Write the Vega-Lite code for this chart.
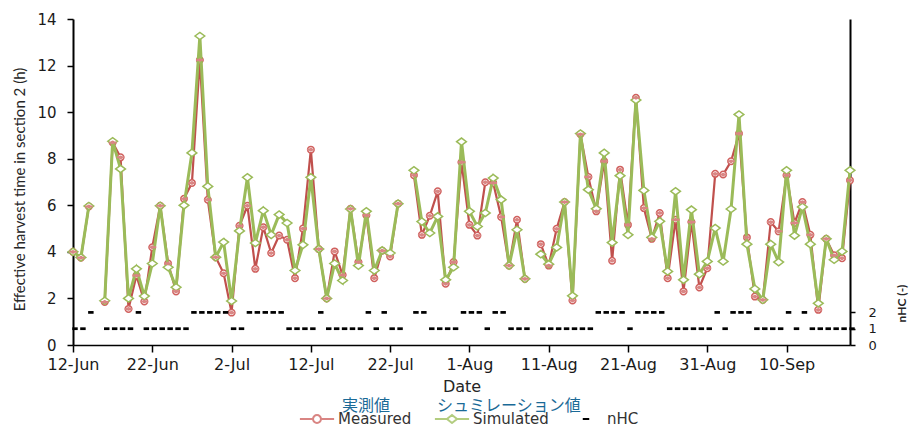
{
  "$schema": "https://vega.github.io/schema/vega-lite/v6.json",
  "width": 777,
  "height": 326,
  "autosize": "none",
  "padding": {"left": 73, "top": 19, "right": 60, "bottom": 79},
  "background": "white",
  "data": {"values": [
    {"date": "2016-06-12", "Measured": 4.0, "Simulated": 4.0, "nHC": 1},
    {"date": "2016-06-13", "Measured": 3.75, "Simulated": 3.76, "nHC": 1},
    {"date": "2016-06-14", "Measured": 5.95, "Simulated": 5.97, "nHC": 2},
    {"date": "2016-06-15", "Measured": null, "Simulated": null, "nHC": null},
    {"date": "2016-06-16", "Measured": 1.85, "Simulated": 1.9, "nHC": 1},
    {"date": "2016-06-17", "Measured": 8.7, "Simulated": 8.75, "nHC": 1},
    {"date": "2016-06-18", "Measured": 8.06, "Simulated": 7.56, "nHC": 1},
    {"date": "2016-06-19", "Measured": 1.55, "Simulated": 2.0, "nHC": 1},
    {"date": "2016-06-20", "Measured": 2.98, "Simulated": 3.27, "nHC": 2},
    {"date": "2016-06-21", "Measured": 1.87, "Simulated": 2.1, "nHC": 1},
    {"date": "2016-06-22", "Measured": 4.2, "Simulated": 3.5, "nHC": 1},
    {"date": "2016-06-23", "Measured": 5.98, "Simulated": 5.98, "nHC": 1},
    {"date": "2016-06-24", "Measured": 3.5, "Simulated": 3.34, "nHC": 1},
    {"date": "2016-06-25", "Measured": 2.3, "Simulated": 2.48, "nHC": 1},
    {"date": "2016-06-26", "Measured": 6.28, "Simulated": 6.0, "nHC": 1},
    {"date": "2016-06-27", "Measured": 6.96, "Simulated": 8.25, "nHC": 2},
    {"date": "2016-06-28", "Measured": 12.24, "Simulated": 13.27, "nHC": 2},
    {"date": "2016-06-29", "Measured": 6.24, "Simulated": 6.81, "nHC": 2},
    {"date": "2016-06-30", "Measured": 3.77, "Simulated": 3.77, "nHC": 2},
    {"date": "2016-07-01", "Measured": 3.08, "Simulated": 4.42, "nHC": 2},
    {"date": "2016-07-02", "Measured": 1.39, "Simulated": 1.89, "nHC": 1},
    {"date": "2016-07-03", "Measured": 5.12, "Simulated": 4.9, "nHC": 1},
    {"date": "2016-07-04", "Measured": 5.98, "Simulated": 7.2, "nHC": 2},
    {"date": "2016-07-05", "Measured": 3.27, "Simulated": 4.38, "nHC": 2},
    {"date": "2016-07-06", "Measured": 5.06, "Simulated": 5.77, "nHC": 2},
    {"date": "2016-07-07", "Measured": 3.95, "Simulated": 4.73, "nHC": 2},
    {"date": "2016-07-08", "Measured": 4.7, "Simulated": 5.6, "nHC": 2},
    {"date": "2016-07-09", "Measured": 4.52, "Simulated": 5.24, "nHC": 1},
    {"date": "2016-07-10", "Measured": 2.87, "Simulated": 3.2, "nHC": 1},
    {"date": "2016-07-11", "Measured": 5.0, "Simulated": 4.3, "nHC": 1},
    {"date": "2016-07-12", "Measured": 8.39, "Simulated": 7.2, "nHC": 1},
    {"date": "2016-07-13", "Measured": 4.12, "Simulated": 4.12, "nHC": 2},
    {"date": "2016-07-14", "Measured": 2.0, "Simulated": 2.0, "nHC": 1},
    {"date": "2016-07-15", "Measured": 4.02, "Simulated": 3.5, "nHC": 1},
    {"date": "2016-07-16", "Measured": 3.01, "Simulated": 2.77, "nHC": 1},
    {"date": "2016-07-17", "Measured": 5.85, "Simulated": 5.84, "nHC": 1},
    {"date": "2016-07-18", "Measured": 3.56, "Simulated": 3.41, "nHC": 1},
    {"date": "2016-07-19", "Measured": 5.57, "Simulated": 5.74, "nHC": 2},
    {"date": "2016-07-20", "Measured": 2.87, "Simulated": 3.2, "nHC": 1},
    {"date": "2016-07-21", "Measured": 4.05, "Simulated": 4.06, "nHC": 2},
    {"date": "2016-07-22", "Measured": 3.8, "Simulated": 3.95, "nHC": 1},
    {"date": "2016-07-23", "Measured": 6.07, "Simulated": 6.07, "nHC": 1},
    {"date": "2016-07-24", "Measured": null, "Simulated": null, "nHC": null},
    {"date": "2016-07-25", "Measured": 7.29, "Simulated": 7.5, "nHC": 2},
    {"date": "2016-07-26", "Measured": 4.73, "Simulated": 5.3, "nHC": 2},
    {"date": "2016-07-27", "Measured": 5.55, "Simulated": 4.81, "nHC": 1},
    {"date": "2016-07-28", "Measured": 6.6, "Simulated": 5.52, "nHC": 1},
    {"date": "2016-07-29", "Measured": 2.63, "Simulated": 2.8, "nHC": 1},
    {"date": "2016-07-30", "Measured": 3.56, "Simulated": 3.34, "nHC": 1},
    {"date": "2016-07-31", "Measured": 7.85, "Simulated": 8.73, "nHC": 2},
    {"date": "2016-08-01", "Measured": 5.16, "Simulated": 5.74, "nHC": 2},
    {"date": "2016-08-02", "Measured": 4.7, "Simulated": 5.09, "nHC": 2},
    {"date": "2016-08-03", "Measured": 6.99, "Simulated": 5.67, "nHC": 1},
    {"date": "2016-08-04", "Measured": 6.96, "Simulated": 7.17, "nHC": 2},
    {"date": "2016-08-05", "Measured": 5.5, "Simulated": 6.24, "nHC": 2},
    {"date": "2016-08-06", "Measured": 3.41, "Simulated": 3.41, "nHC": 1},
    {"date": "2016-08-07", "Measured": 5.38, "Simulated": 4.95, "nHC": 1},
    {"date": "2016-08-08", "Measured": 2.84, "Simulated": 2.84, "nHC": 1},
    {"date": "2016-08-09", "Measured": null, "Simulated": null, "nHC": null},
    {"date": "2016-08-10", "Measured": 4.33, "Simulated": 3.9, "nHC": 1},
    {"date": "2016-08-11", "Measured": 3.41, "Simulated": 3.47, "nHC": 1},
    {"date": "2016-08-12", "Measured": 4.99, "Simulated": 4.19, "nHC": 1},
    {"date": "2016-08-13", "Measured": 6.14, "Simulated": 6.14, "nHC": 1},
    {"date": "2016-08-14", "Measured": 1.91, "Simulated": 2.11, "nHC": 1},
    {"date": "2016-08-15", "Measured": 9.05, "Simulated": 9.08, "nHC": 1},
    {"date": "2016-08-16", "Measured": 7.22, "Simulated": 6.67, "nHC": 1},
    {"date": "2016-08-17", "Measured": 5.74, "Simulated": 5.85, "nHC": 2},
    {"date": "2016-08-18", "Measured": 7.89, "Simulated": 8.25, "nHC": 2},
    {"date": "2016-08-19", "Measured": 3.62, "Simulated": 4.4, "nHC": 2},
    {"date": "2016-08-20", "Measured": 7.53, "Simulated": 7.27, "nHC": 2},
    {"date": "2016-08-21", "Measured": 5.16, "Simulated": 4.73, "nHC": 1},
    {"date": "2016-08-22", "Measured": 10.62, "Simulated": 10.52, "nHC": 2},
    {"date": "2016-08-23", "Measured": 5.88, "Simulated": 6.64, "nHC": 2},
    {"date": "2016-08-24", "Measured": 4.56, "Simulated": 4.62, "nHC": 2},
    {"date": "2016-08-25", "Measured": 5.67, "Simulated": 5.31, "nHC": 2},
    {"date": "2016-08-26", "Measured": 2.87, "Simulated": 3.16, "nHC": 1},
    {"date": "2016-08-27", "Measured": 5.38, "Simulated": 6.6, "nHC": 1},
    {"date": "2016-08-28", "Measured": 2.3, "Simulated": 2.8, "nHC": 1},
    {"date": "2016-08-29", "Measured": 5.28, "Simulated": 5.81, "nHC": 1},
    {"date": "2016-08-30", "Measured": 2.47, "Simulated": 3.04, "nHC": 1},
    {"date": "2016-08-31", "Measured": 3.3, "Simulated": 3.59, "nHC": 1},
    {"date": "2016-09-01", "Measured": 7.35, "Simulated": 5.02, "nHC": 2},
    {"date": "2016-09-02", "Measured": 7.32, "Simulated": 3.59, "nHC": 1},
    {"date": "2016-09-03", "Measured": 7.89, "Simulated": 5.84, "nHC": 2},
    {"date": "2016-09-04", "Measured": 9.08, "Simulated": 9.9, "nHC": 2},
    {"date": "2016-09-05", "Measured": 4.62, "Simulated": 4.33, "nHC": 2},
    {"date": "2016-09-06", "Measured": 2.08, "Simulated": 2.41, "nHC": 1},
    {"date": "2016-09-07", "Measured": 1.94, "Simulated": 1.94, "nHC": 1},
    {"date": "2016-09-08", "Measured": 5.28, "Simulated": 4.33, "nHC": 1},
    {"date": "2016-09-09", "Measured": 4.88, "Simulated": 3.56, "nHC": 1},
    {"date": "2016-09-10", "Measured": 7.29, "Simulated": 7.5, "nHC": 2},
    {"date": "2016-09-11", "Measured": 5.24, "Simulated": 4.7, "nHC": 1},
    {"date": "2016-09-12", "Measured": 6.14, "Simulated": 5.93, "nHC": 2},
    {"date": "2016-09-13", "Measured": 4.73, "Simulated": 4.33, "nHC": 1},
    {"date": "2016-09-14", "Measured": 1.51, "Simulated": 1.79, "nHC": 1},
    {"date": "2016-09-15", "Measured": 4.56, "Simulated": 4.56, "nHC": 1},
    {"date": "2016-09-16", "Measured": 3.85, "Simulated": 3.66, "nHC": 1},
    {"date": "2016-09-17", "Measured": 3.73, "Simulated": 4.02, "nHC": 1},
    {"date": "2016-09-18", "Measured": 7.07, "Simulated": 7.5, "nHC": 1}
  ]},
  "encoding": {
    "x": {
      "field": "date",
      "type": "temporal",
      "scale": {
        "type": "utc",
        "nice": false,
        "domain": [
          {"year": 2016, "month": 6, "date": 12, "utc": true},
          {"year": 2016, "month": 9, "date": 18, "utc": true}
        ]
      },
      "axis": {
        "values": [
          {"year": 2016, "month": 6, "date": 12, "utc": true},
          {"year": 2016, "month": 6, "date": 22, "utc": true},
          {"year": 2016, "month": 7, "date": 2, "utc": true},
          {"year": 2016, "month": 7, "date": 12, "utc": true},
          {"year": 2016, "month": 7, "date": 22, "utc": true},
          {"year": 2016, "month": 8, "date": 1, "utc": true},
          {"year": 2016, "month": 8, "date": 11, "utc": true},
          {"year": 2016, "month": 8, "date": 21, "utc": true},
          {"year": 2016, "month": 8, "date": 31, "utc": true},
          {"year": 2016, "month": 9, "date": 10, "utc": true}
        ],
        "labelExpr": "utcFormat(datum.value, '%-d-%b')",
        "labelFlush": false,
        "labelOverlap": false,
        "labelFont": "DejaVu Sans",
        "labelFontSize": 16,
        "labelPadding": 4,
        "tickSize": 7,
        "tickWidth": 1.5,
        "domainWidth": 1.5,
        "title": "Date",
        "titleFont": "DejaVu Sans",
        "titleFontSize": 16,
        "titleFontWeight": "normal",
        "titleY": 41,
        "titleBaseline": "middle"
      }
    }
  },
  "layer": [
    {
      "transform": [{"fold": ["Measured", "Simulated"], "as": ["series", "value"]}],
      "encoding": {
        "y": {
          "field": "value",
          "type": "quantitative",
          "scale": {"domain": [0, 14], "nice": false},
          "axis": {
            "title": "Effective harvest time in section 2 (h)",
            "values": [0, 2, 4, 6, 8, 10, 12, 14],
            "labelFont": "DejaVu Sans",
            "labelFontSize": 15,
            "labelPadding": 11,
            "tickSize": 6,
            "tickWidth": 1.5,
            "domainWidth": 2,
            "titleFont": "Lato",
            "titleFontSize": 15,
            "titleFontWeight": "normal",
            "titleAngle": 270,
            "titleX": -54,
            "titleY": 170,
            "titleAlign": "center",
            "titleBaseline": "middle"
          }
        }
      },
      "layer": [
        {
          "transform": [{"filter": "datum.series === 'Measured'"}],
          "mark": {"type": "line", "color": "#c0504d", "strokeWidth": 2.2, "invalid": "break-paths-show-domains"}
        },
        {
          "transform": [{"filter": "datum.series === 'Measured'"}],
          "mark": {"type": "point", "shape": "circle", "filled": true, "fill": "white", "stroke": "#d0605e", "strokeWidth": 1.5, "size": 42, "opacity": 1}
        },
        {
          "transform": [{"filter": "datum.series === 'Simulated'"}],
          "mark": {"type": "line", "color": "#9bbb59", "strokeWidth": 3, "invalid": "break-paths-show-domains"}
        },
        {
          "transform": [{"filter": "datum.series === 'Simulated'"}],
          "mark": {"type": "point", "shape": "M-1,0L0,-0.75L1,0L0,0.75Z", "filled": true, "fill": "white", "stroke": "#9bbb59", "strokeWidth": 1.5, "size": 95, "opacity": 1}
        },
        {
          "mark": {"type": "point", "filled": false},
          "encoding": {
            "color": {
              "field": "series",
              "type": "nominal",
              "scale": {"domain": ["Measured", "Simulated", "nHC"], "range": ["#d98583", "#b3cd80", "#000000"]},
              "legend": {"title": null, "orient": "none", "legendX": 225, "legendY": 381, "direction": "horizontal", "symbolSize": 1296, "symbolStrokeWidth": 2, "symbolOpacity": 1, "labelFont": "DejaVu Sans", "labelFontSize": 15, "labelColor": "#333333", "labelOffset": 2, "columnPadding": 18, "padding": 0}
            },
            "shape": {
              "field": "series",
              "type": "nominal",
              "scale": {"domain": ["Measured", "Simulated", "nHC"], "range": [
                "M-0.95,0H-0.22M0.22,0H0.95M0.22,0A0.22,0.22,0,1,1,-0.22,0A0.22,0.22,0,1,1,0.22,0",
                "M-0.95,0H-0.28M0.28,0H0.95M-0.28,0L0,-0.22L0.28,0L0,0.22Z",
                "M-0.18,0H0.18"
              ]},
              "legend": {"title": null, "orient": "none", "legendX": 225, "legendY": 381, "direction": "horizontal", "symbolSize": 1296, "symbolStrokeWidth": 2, "symbolOpacity": 1, "labelFont": "DejaVu Sans", "labelFontSize": 15, "labelColor": "#333333", "labelOffset": 2, "columnPadding": 18, "padding": 0}
            },
            "opacity": {
              "field": "series",
              "type": "ordinal",
              "scale": {"domain": ["Measured"], "range": [0]},
              "legend": {"title": null, "orient": "none", "legendX": 253, "legendY": 379, "symbolSize": 0, "symbolOpacity": 0, "labelOffset": 0, "labelFont": "Noto Sans CJK JP", "labelFontSize": 16, "labelColor": "#1a6a97", "labelExpr": "'実測値'", "padding": 0}
            },
            "size": {
              "field": "series",
              "type": "ordinal",
              "scale": {"domain": ["Simulated"], "range": [0]},
              "legend": {"title": null, "orient": "none", "legendX": 364, "legendY": 387, "symbolOpacity": 0, "labelOffset": 0, "labelFont": "Noto Sans CJK JP", "labelFontSize": 16, "labelColor": "#1a6a97", "labelExpr": "'シュミレーション値'", "padding": 0}
            }
          }
        }
      ]
    },
    {
      "mark": {"type": "point", "shape": "M-1,-0.5H1V0.5H-1Z", "filled": true, "color": "#000000", "size": 30, "xOffset": 2, "opacity": 1},
      "encoding": {
        "y": {
          "field": "nHC",
          "type": "quantitative",
          "scale": {"domain": [0, 20], "nice": false},
          "axis": {
            "orient": "right",
            "values": [0, 1, 2],
            "title": "nHC (-)",
            "labelFont": "DejaVu Sans",
            "labelFontSize": 13,
            "labelPadding": 13,
            "tickSize": 5,
            "tickWidth": 1.5,
            "domainWidth": 2,
            "titleFont": "Lato",
            "titleFontSize": 12,
            "titleFontWeight": "bold",
            "titleAngle": 270,
            "titleX": 51,
            "titleY": 284,
            "titleAlign": "center",
            "titleBaseline": "middle"
          }
        }
      }
    }
  ],
  "resolve": {"scale": {"y": "independent"}},
  "config": {
    "view": {"stroke": null},
    "font": "DejaVu Sans",
    "axis": {"grid": false, "domainColor": "#000000", "tickColor": "#000000", "labelColor": "#1a1a1a", "titleColor": "#262626"}
  }
}
